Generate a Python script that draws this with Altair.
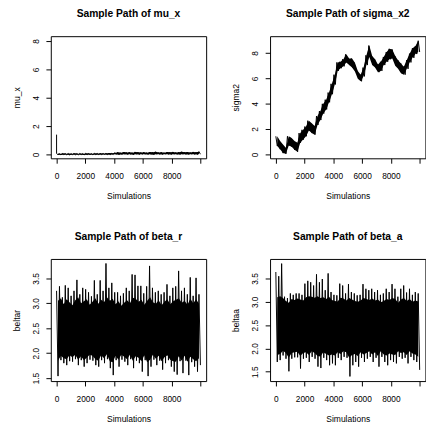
import altair as alt
import pandas as pd

# ---- data (per 200-iteration bin: upper / lower extent) ----
mu_x_start = 1.4
mu_x_hi = [0.07, 0.05, 0.08, 0.06, 0.07, 0.05, 0.08, 0.06, 0.07, 0.06,
           0.08, 0.07, 0.06, 0.08, 0.07, 0.09, 0.07, 0.08, 0.10, 0.08,
           0.13, 0.15, 0.12, 0.17, 0.14, 0.16, 0.13, 0.18, 0.15, 0.14,
           0.16, 0.13, 0.17, 0.15, 0.19, 0.14, 0.16, 0.13, 0.17, 0.15,
           0.18, 0.14, 0.16, 0.19, 0.15, 0.17, 0.14, 0.18, 0.16, 0.20]
mu_x_lo = [-0.02, -0.03, -0.01, -0.02, -0.03, -0.01, -0.02, -0.02, -0.01, -0.03,
           -0.02, -0.01, -0.02, -0.01, -0.02, -0.01, 0.00, -0.01, -0.02, 0.00,
           0.01, -0.01, 0.00, 0.02, 0.00, 0.01, -0.01, 0.02, 0.00, 0.01,
           0.02, 0.00, 0.01, -0.01, 0.02, 0.01, 0.00, 0.02, 0.01, 0.00,
           0.02, 0.01, 0.00, 0.02, 0.01, 0.00, 0.02, 0.01, 0.00, 0.02]

sigma_hi = [1.43, 1.05, 0.79, 0.53, 1.43, 1.30, 1.05, 0.92, 1.68, 1.94,
            2.20, 2.66, 2.45, 2.25, 3.03, 3.42, 3.99, 4.32, 4.88, 5.57,
            6.29, 7.26, 7.31, 7.51, 7.90, 7.56, 7.56, 7.23, 6.59, 6.29,
            6.85, 7.82, 8.59, 7.77, 7.51, 7.10, 7.31, 7.69, 8.08, 8.33,
            8.28, 7.77, 7.44, 7.18, 6.92, 7.44, 7.95, 8.38, 8.54, 8.97]
sigma_lo = [0.66, 0.41, 0.10, 0.05, 0.71, 0.61, 0.36, 0.20, 0.92, 1.17,
            1.43, 1.89, 1.68, 1.56, 2.32, 2.71, 3.22, 3.55, 4.11, 4.75,
            5.52, 6.59, 6.80, 6.95, 7.26, 7.05, 6.85, 6.54, 5.98, 5.77,
            6.16, 7.05, 7.69, 7.05, 6.85, 6.49, 6.59, 7.05, 7.31, 7.51,
            7.56, 7.00, 6.75, 6.41, 6.29, 6.75, 7.26, 7.62, 7.92, 8.08]

beta_r_hi = [3.25, 3.34, 3.12, 3.36, 3.31, 3.15, 3.25, 3.47, 3.18, 3.31,
             3.28, 3.22, 3.14, 3.46, 3.18, 3.46, 3.25, 3.80, 3.31, 3.41,
             3.22, 3.22, 3.15, 3.20, 3.31, 3.25, 3.58, 3.57, 3.35, 3.35,
             3.20, 3.34, 3.75, 3.31, 3.22, 3.25, 3.18, 3.22, 3.38, 3.15,
             3.31, 3.34, 3.65, 3.25, 3.31, 3.18, 3.52, 3.15, 3.51, 3.18]
beta_r_lo = [1.54, 1.86, 1.80, 1.76, 1.84, 1.83, 1.88, 1.76, 1.86, 1.73,
             1.80, 1.87, 1.85, 1.76, 1.73, 1.86, 1.80, 1.88, 1.70, 1.56,
             1.86, 1.73, 1.87, 1.83, 1.76, 1.88, 1.70, 1.85, 1.80, 1.63,
             1.86, 1.54, 1.73, 1.87, 1.76, 1.85, 1.67, 1.80, 1.86, 1.73,
             1.63, 1.57, 1.84, 1.60, 1.85, 1.56, 1.82, 1.73, 1.63, 1.76]
# edge of the dense (solid) part of the beta_r trace
beta_r_in_hi = [3.05, 3.10, 2.98, 3.08, 3.02, 2.96, 3.06, 3.12, 3.00, 3.04,
                3.08, 2.97, 3.03, 3.10, 2.99, 3.07, 3.02, 3.12, 3.05, 3.09,
                2.98, 3.04, 2.95, 3.01, 3.06, 3.00, 3.11, 3.09, 3.03, 3.07,
                2.97, 3.05, 3.12, 3.02, 2.99, 3.06, 2.96, 3.03, 3.08, 2.98,
                3.04, 3.07, 3.10, 3.01, 3.05, 2.97, 3.09, 3.00, 3.08, 2.99]
beta_r_in_lo = [1.85, 1.95, 1.90, 1.88, 1.96, 1.92, 1.97, 1.87, 1.94, 1.86,
                1.91, 1.97, 1.95, 1.88, 1.85, 1.96, 1.90, 1.98, 1.84, 1.82,
                1.95, 1.87, 1.97, 1.93, 1.88, 1.97, 1.85, 1.94, 1.91, 1.84,
                1.96, 1.82, 1.87, 1.97, 1.89, 1.95, 1.84, 1.92, 1.96, 1.87,
                1.84, 1.83, 1.94, 1.85, 1.95, 1.83, 1.93, 1.88, 1.84, 1.90]

beta_a_hi = [3.64, 3.55, 3.82, 3.11, 3.08, 3.18, 3.15, 3.18, 3.18, 3.15,
             3.39, 3.45, 3.42, 3.35, 3.59, 3.42, 3.49, 3.25, 3.61, 3.21,
             3.15, 3.14, 3.39, 3.35, 3.18, 3.38, 3.21, 3.18, 3.14, 3.15,
             3.38, 3.28, 3.25, 3.28, 3.21, 3.25, 3.15, 3.18, 3.28, 3.21,
             3.38, 3.28, 3.11, 3.28, 3.35, 3.20, 3.28, 3.15, 3.21, 3.18]
beta_a_lo = [1.71, 1.75, 1.85, 1.78, 1.51, 1.78, 1.81, 1.81, 1.57, 1.78,
             1.80, 1.71, 1.82, 1.78, 1.61, 1.58, 1.80, 1.75, 1.64, 1.68,
             1.64, 1.80, 1.75, 1.82, 1.80, 1.40, 1.64, 1.71, 1.61, 1.80,
             1.71, 1.78, 1.82, 1.71, 1.80, 1.61, 1.82, 1.71, 1.64, 1.75,
             1.71, 1.68, 1.82, 1.78, 1.80, 1.68, 1.82, 1.75, 1.71, 1.54]
beta_a_in_hi = [3.10, 3.12, 3.08, 3.02, 2.98, 3.06, 3.04, 3.07, 3.05, 3.03,
                3.10, 3.12, 3.11, 3.09, 3.12, 3.08, 3.10, 3.06, 3.11, 3.04,
                3.02, 3.01, 3.09, 3.07, 3.03, 3.08, 3.05, 3.02, 3.00, 3.03,
                3.08, 3.06, 3.04, 3.07, 3.03, 3.05, 2.99, 3.02, 3.06, 3.04,
                3.08, 3.06, 2.98, 3.05, 3.08, 3.02, 3.06, 3.00, 3.03, 3.01]
beta_a_in_lo = [1.86, 1.88, 1.95, 1.90, 1.80, 1.90, 1.92, 1.93, 1.84, 1.90,
                1.92, 1.86, 1.94, 1.90, 1.84, 1.83, 1.92, 1.88, 1.85, 1.87,
                1.85, 1.92, 1.88, 1.94, 1.92, 1.80, 1.86, 1.88, 1.84, 1.92,
                1.87, 1.90, 1.94, 1.87, 1.92, 1.84, 1.94, 1.87, 1.85, 1.89,
                1.87, 1.86, 1.94, 1.90, 1.92, 1.86, 1.94, 1.89, 1.87, 1.82]

x_ticks = [0, 2000, 4000, 6000, 8000, 10000]
n_iter = 10000
bin_size = 200

FONT = "Liberation Sans"
W, H = 159, 125


def zigzag_table(hi, lo, start=None):
    rows = []
    step = (n_iter - 1) / (2 * len(hi) - 1)
    if start is not None:
        rows.append({"x": 1, "y": start})
    for b in range(len(hi)):
        rows.append({"x": 1 + (2 * b) * step, "y": hi[b]})
        rows.append({"x": 1 + (2 * b + 1) * step, "y": lo[b]})
    df = pd.DataFrame(rows)
    df["i"] = range(len(df))
    return df


def band_table(hi, lo):
    return pd.DataFrame({
        "x": [b * bin_size + bin_size / 2 for b in range(len(hi))],
        "y": lo, "y2": hi,
    })


def panel(title, ylab, hi, lo, ydom, yticks, yfmt, band_hi, band_lo, start=None):
    xs = alt.Scale(domain=[-400, 10400], nice=False, zero=False)
    ys = alt.Scale(domain=ydom, nice=False, zero=False)
    xaxis = alt.Axis(values=x_ticks, format="d",
                     labelExpr="datum.value == 10000 ? '' : datum.label",
                     title="Simulations", grid=False, domain=False,
                     tickSize=5, tickColor="black", tickWidth=1,
                     labelFont=FONT, labelFontSize=8.5, labelColor="black",
                     labelBaseline="middle", labelPadding=12.5,
                     labelFlush=False, labelOverlap=False,
                     titleFont=FONT, titleFontSize=8.7, titleFontWeight="normal",
                     titleColor="black", titleBaseline="middle", titleY=38.5)
    yaxis = alt.Axis(values=yticks, format=yfmt, title=ylab, grid=False,
                     domain=False, tickSize=5, tickColor="black", tickWidth=1,
                     labelFont=FONT, labelFontSize=8.5, labelColor="black",
                     labelAngle=270, labelAlign="center", labelBaseline="middle",
                     labelPadding=11, labelFlush=False, labelOverlap=False,
                     titleFont=FONT, titleFontSize=8.7, titleFontWeight="normal",
                     titleColor="black", titleAngle=270, titleAlign="center",
                     titleBaseline="middle", titleX=-35, titleY=H / 2)
    band = alt.Chart(band_table(band_hi, band_lo)).mark_area(
        color="black", opacity=1, strokeWidth=0).encode(
        x=alt.X("x:Q", scale=xs, axis=xaxis),
        y=alt.Y("y:Q", scale=ys, axis=yaxis), y2="y2:Q")
    line = alt.Chart(zigzag_table(hi, lo, start)).mark_line(
        color="black", strokeWidth=1).encode(
        x=alt.X("x:Q", scale=xs, axis=xaxis),
        y=alt.Y("y:Q", scale=ys, axis=yaxis),
        order="i:Q",
    )
    return alt.layer(band, line).properties(
        width=W, height=H,
        title=alt.TitleParams(text=title, font=FONT, fontSize=10.5, fontWeight="bold",
                              color="black", anchor="middle", frame="group",
                              baseline="middle", offset=12),
    )


p1 = panel("Sample Path of mu_x", "mu_x", mu_x_hi, mu_x_lo, [-0.27, 8.34],
           [0, 2, 4, 6, 8], "d", mu_x_hi, mu_x_lo, start=mu_x_start)
p2 = panel("Sample Path of sigma_x2", "sigma2", sigma_hi, sigma_lo, [-0.31, 9.33],
           [0, 2, 4, 6, 8], "d", sigma_hi, sigma_lo)
p3 = panel("Sample Path of beta_r", "beltar", beta_r_hi, beta_r_lo, [1.44, 3.89],
           [1.5, 2.0, 2.5, 3.0, 3.5], ".1f", beta_r_in_hi, beta_r_in_lo)
p4 = panel("Sample Path of beta_a", "beltaa", beta_a_hi, beta_a_lo, [1.30, 3.92],
           [1.5, 2.0, 2.5, 3.0, 3.5], ".1f", beta_a_in_hi, beta_a_in_lo)

chart = alt.concat(p1, p2, p3, p4, columns=2, spacing={"row": 103, "column": 65.4},
                   bounds="flush").properties(
    padding={"left": 12, "top": 4, "right": 0, "bottom": 0},
    background="white",
).configure_view(stroke="black", strokeWidth=1)

chart.save("out.html", embed_options={"renderer": "svg", "actions": False})
